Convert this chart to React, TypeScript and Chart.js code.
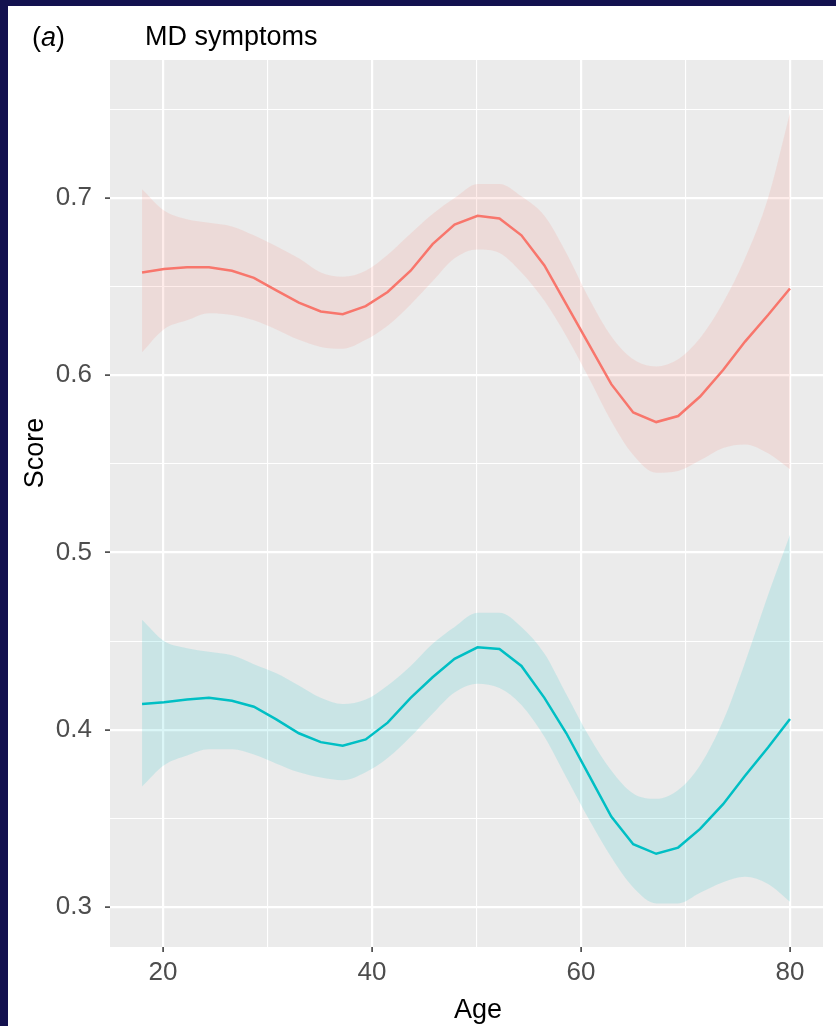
import React, { useEffect, useRef } from "react";
import { Chart, registerables } from "chart.js";

Chart.register(...registerables);

const ages = [18, 20.1, 22.3, 24.4, 26.6, 28.7, 30.8, 33.0, 35.1, 37.2, 39.4, 41.5, 43.7, 45.8, 47.9, 50.1, 52.2, 54.3, 56.5, 58.6, 60.8, 62.9, 65.0, 67.2, 69.3, 71.4, 73.6, 75.7, 77.9, 80];

const redLine = [0.658, 0.66, 0.661, 0.661, 0.659, 0.655, 0.648, 0.641, 0.636, 0.6345, 0.639, 0.647, 0.659, 0.674, 0.685, 0.69, 0.6885, 0.679, 0.662, 0.64, 0.617, 0.595, 0.579, 0.5736, 0.577, 0.588, 0.603, 0.619, 0.634, 0.649];
const redUpper = [0.705, 0.693, 0.688, 0.686, 0.684, 0.679, 0.673, 0.666, 0.658, 0.6556, 0.659, 0.668, 0.68, 0.691, 0.7, 0.708, 0.708, 0.701, 0.69, 0.669, 0.643, 0.622, 0.609, 0.605, 0.609, 0.621, 0.641, 0.666, 0.7, 0.748];
const redLower = [0.613, 0.626, 0.631, 0.635, 0.634, 0.631, 0.626, 0.62, 0.616, 0.615, 0.62, 0.628, 0.64, 0.653, 0.666, 0.671, 0.669, 0.658, 0.642, 0.622, 0.598, 0.574, 0.555, 0.545, 0.546, 0.552, 0.559, 0.561, 0.556, 0.547];

const tealLine = [0.4145, 0.4155, 0.417, 0.418, 0.4163, 0.413, 0.406, 0.398, 0.393, 0.391, 0.3945, 0.404, 0.418, 0.4296, 0.44, 0.4465, 0.4456, 0.436, 0.418, 0.398, 0.374, 0.351, 0.3354, 0.33, 0.3335, 0.344, 0.358, 0.374, 0.39, 0.406];
const tealUpper = [0.462, 0.45, 0.446, 0.444, 0.442, 0.437, 0.432, 0.425, 0.418, 0.4145, 0.417, 0.425, 0.436, 0.4485, 0.458, 0.466, 0.466, 0.458, 0.443, 0.42, 0.396, 0.377, 0.364, 0.361, 0.366, 0.38, 0.405, 0.438, 0.476, 0.51];
const tealLower = [0.368, 0.38, 0.3855, 0.389, 0.389, 0.386, 0.381, 0.376, 0.373, 0.3715, 0.376, 0.384, 0.396, 0.409, 0.421, 0.426, 0.4235, 0.414, 0.396, 0.373, 0.349, 0.328, 0.311, 0.302, 0.302, 0.308, 0.314, 0.317, 0.313, 0.303];

const xTicks = [20, 30, 40, 50, 60, 70, 80];
const xMajor = [20, 40, 60, 80];
const yTicks = [0.3, 0.35, 0.4, 0.45, 0.5, 0.55, 0.6, 0.65, 0.7, 0.75];
const yMajor = [0.3, 0.4, 0.5, 0.6, 0.7];

const RED = "#F8766D";
const TEAL = "#00BFC4";
const FONT = "'Liberation Sans', Arial, Helvetica, sans-serif";

const pts = (ys: number[]) => ages.map((a, i) => ({ x: a, y: ys[i] }));
const isMajor = (v: number, arr: number[]) => arr.some((m) => Math.abs(m - v) < 1e-6);

export default function App() {
  const ref = useRef<HTMLCanvasElement | null>(null);
  useEffect(() => {
    if (!ref.current) return;
    const bgPlugin = {
      id: "panelBg",
      beforeDraw(chart: any) {
        const { ctx, chartArea: a } = chart;
        ctx.save();
        ctx.fillStyle = "#FFFFFF";
        ctx.fillRect(0, 0, chart.width, chart.height);
        ctx.fillStyle = "#EBEBEB";
        ctx.fillRect(a.left, a.top, a.right - a.left, a.bottom - a.top);
        ctx.restore();
      },
      afterDraw(chart: any) {
        const { ctx } = chart;
        ctx.save();
        ctx.fillStyle = "#000000";
        ctx.textBaseline = "alphabetic";
        ctx.textAlign = "left";
        ctx.font = `27px ${FONT}`;
        let x = 24;
        ctx.fillText("(", x, 40);
        x += ctx.measureText("(").width;
        ctx.font = `italic 27px ${FONT}`;
        ctx.fillText("a", x, 40);
        x += ctx.measureText("a").width;
        ctx.font = `27px ${FONT}`;
        ctx.fillText(")", x, 40);
        ctx.font = `27px ${FONT}`;
        ctx.fillText("MD symptoms", 137, 39);
        ctx.textAlign = "center";
        ctx.fillText("Age", 470, 1012);
        ctx.translate(28, 447);
        ctx.rotate(-Math.PI / 2);
        ctx.textBaseline = "middle";
        ctx.fillText("Score", 0, 0);
        ctx.restore();
      },
    };

    const band = (data: number[], color: string, fill: any) => ({
      data: pts(data),
      borderWidth: 0,
      pointRadius: 0,
      borderColor: "rgba(0,0,0,0)",
      backgroundColor: color,
      fill,
      cubicInterpolationMode: "monotone",
    });

    const chart = new Chart(ref.current, {
      type: "line",
      data: {
        datasets: [
          band(redUpper, "rgba(0,0,0,0)", false),
          band(redLower, "rgba(248,118,109,0.14)", "-1"),
          band(tealUpper, "rgba(0,0,0,0)", false),
          band(tealLower, "rgba(0,191,196,0.14)", "-1"),
          { data: pts(redLine), borderColor: RED, borderWidth: 2.5, pointRadius: 0, fill: false, tension: 0 },
          { data: pts(tealLine), borderColor: TEAL, borderWidth: 2.5, pointRadius: 0, fill: false, tension: 0 },
        ],
      },
      options: {
        animation: false,
        responsive: false,
        devicePixelRatio: 1,
        layout: { padding: { left: 0, top: 54, right: 13, bottom: 0 } },
        plugins: { legend: { display: false }, tooltip: { enabled: false }, title: { display: false } },
        scales: {
          x: {
            type: "linear",
            min: 14.93,
            max: 83.16,
            afterBuildTicks: (s: any) => { s.ticks = xTicks.map((v) => ({ value: v })); },
            afterFit: (s: any) => { s.height = 79; },
            border: { display: false },
            grid: {
              color: "#FFFFFF",
              lineWidth: (c: any) => (isMajor(c.tick?.value, xMajor) ? 2.2 : 1.1),
              tickColor: (c: any) => (isMajor(c.tick?.value, xMajor) ? "#333333" : "rgba(0,0,0,0)"),
              tickLength: 5,
              tickWidth: 1.5,
            },
            ticks: {
              autoSkip: false,
              maxRotation: 0,
              padding: 5,
              color: "#4D4D4D",
              font: { family: FONT, size: 26 },
              callback: (v: any) => (isMajor(Number(v), xMajor) ? String(v) : ""),
            },
          },
          y: {
            type: "linear",
            min: 0.2774,
            max: 0.7779,
            afterBuildTicks: (s: any) => { s.ticks = yTicks.map((v) => ({ value: v })); },
            afterFit: (s: any) => { s.width = 102; },
            border: { display: false },
            grid: {
              color: "#FFFFFF",
              lineWidth: (c: any) => (isMajor(c.tick?.value, yMajor) ? 2.2 : 1.1),
              tickColor: (c: any) => (isMajor(c.tick?.value, yMajor) ? "#333333" : "rgba(0,0,0,0)"),
              tickLength: 5,
              tickWidth: 1.5,
            },
            ticks: {
              autoSkip: false,
              padding: 13,
              color: "#4D4D4D",
              font: { family: FONT, size: 26 },
              callback: (v: any) => (isMajor(Number(v), yMajor) ? Number(v).toFixed(1) : ""),
            },
          },
        },
      },
      plugins: [bgPlugin],
    } as any);
    return () => chart.destroy();
  }, []);

  return (
    <div style={{ position: "fixed", left: 0, top: 0, width: 836, height: 1026, background: "#13114F", overflow: "hidden" }}>
      <canvas ref={ref} width={828} height={1020} style={{ position: "absolute", left: 8, top: 6, width: 828, height: 1020 }} />
    </div>
  );
}
